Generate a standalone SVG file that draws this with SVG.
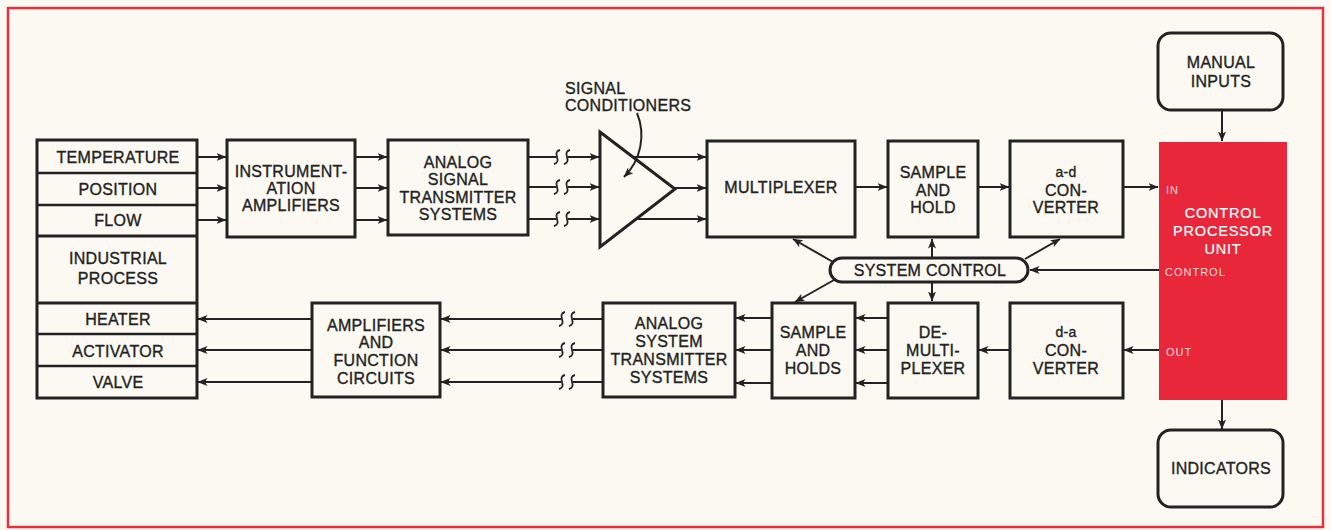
<svg xmlns="http://www.w3.org/2000/svg" width="1331" height="530" viewBox="0 0 1331 530">
<style>
.bx{fill:none;stroke:#222;stroke-width:3}
.dv{stroke:#222;stroke-width:2.5}
.t{font-family:"Liberation Sans",Arial,sans-serif;font-size:16px;fill:#222;stroke:#222;stroke-width:0.35;text-anchor:middle;letter-spacing:0.3px}
.ts{font-size:14px}
.w{font-family:"Liberation Sans",Arial,sans-serif;font-size:14.5px;fill:#fff;stroke:#fff;stroke-width:0.2;text-anchor:middle;letter-spacing:0.8px}
.wl{font-family:"Liberation Sans",Arial,sans-serif;font-size:11px;fill:#ffd8dc;letter-spacing:1px}
.c{fill:none;stroke:#222;stroke-width:2}
.a{marker-end:url(#ah)}
.sq{fill:none;stroke:#222;stroke-width:1.8}
</style>
<defs>
<marker id="ah" viewBox="0 0 10 8" refX="9.5" refY="4" markerWidth="10" markerHeight="8" orient="auto" markerUnits="userSpaceOnUse">
<path d="M0,0 L10,4 L0,8 L2.5,4 z" fill="#222"/>
</marker>
</defs>
<rect width="1331" height="530" fill="#fbf9f2"/>
<rect x="8" y="8" width="1315" height="519" fill="none" stroke="#e8303c" stroke-width="2.5"/>

<g id="process">
<rect class="bx" x="37" y="140" width="160" height="258"/>
<line class="dv" x1="37" y1="173" x2="197" y2="173"/>
<line class="dv" x1="37" y1="205" x2="197" y2="205"/>
<line class="bx" x1="37" y1="236" x2="197" y2="236"/>
<line class="bx" x1="37" y1="303" x2="197" y2="303"/>
<line class="dv" x1="37" y1="334" x2="197" y2="334"/>
<line class="dv" x1="37" y1="366" x2="197" y2="366"/>
<text class="t" x="118" y="163">TEMPERATURE</text>
<text class="t" x="118" y="195">POSITION</text>
<text class="t" x="118" y="226">FLOW</text>
<text class="t" x="118" y="264">INDUSTRIAL</text>
<text class="t" x="118" y="284">PROCESS</text>
<text class="t" x="118" y="325">HEATER</text>
<text class="t" x="118" y="357">ACTIVATOR</text>
<text class="t" x="118" y="388">VALVE</text>
</g>

<g id="instr-amp">
<rect class="bx" x="227" y="140" width="128" height="97"/>
<text class="t" x="291" y="177">INSTRUMENT-</text>
<text class="t" x="291" y="194">ATION</text>
<text class="t" x="291" y="211">AMPLIFIERS</text>
</g>

<g id="analog-signal">
<rect class="bx" x="388" y="140" width="140" height="95"/>
<text class="t" x="458" y="168">ANALOG</text>
<text class="t" x="458" y="185">SIGNAL</text>
<text class="t" x="458" y="203">TRANSMITTER</text>
<text class="t" x="458" y="220">SYSTEMS</text>
</g>

<g id="signal-conditioners">
<polygon points="600,132 675,189 600,247" fill="none" stroke="#222" stroke-width="3" stroke-linejoin="miter"/>
<text class="t" x="565" y="94" style="text-anchor:start">SIGNAL</text>
<text class="t" x="565" y="111" style="text-anchor:start">CONDITIONERS</text>
</g>

<g id="multiplexer">
<rect class="bx" x="707" y="141" width="148" height="96"/>
<text class="t" x="781" y="193">MULTIPLEXER</text>
</g>

<g id="sample-hold">
<rect class="bx" x="888" y="141" width="90" height="96"/>
<text class="t" x="933" y="178">SAMPLE</text>
<text class="t" x="933" y="196">AND</text>
<text class="t" x="933" y="213">HOLD</text>
</g>

<g id="ad-converter">
<rect class="bx" x="1010" y="141" width="113" height="96"/>
<text class="t ts" x="1066" y="177">a-d</text>
<text class="t" x="1066" y="196">CON-</text>
<text class="t" x="1066" y="213">VERTER</text>
</g>

<g id="cpu">
<rect x="1159" y="142" width="128" height="258" fill="#e8283a"/>
<text class="wl" x="1166" y="194">IN</text>
<text class="w" x="1223" y="218">CONTROL</text>
<text class="w" x="1223" y="236">PROCESSOR</text>
<text class="w" x="1223" y="254">UNIT</text>
<text class="wl" x="1165" y="276">CONTROL</text>
<text class="wl" x="1166" y="356">OUT</text>
</g>

<g id="manual-inputs">
<rect class="bx" x="1158" y="33" width="125" height="77" rx="13"/>
<text class="t" x="1221" y="68">MANUAL</text>
<text class="t" x="1221" y="87">INPUTS</text>
</g>

<g id="indicators">
<rect class="bx" x="1158" y="430" width="125" height="77" rx="13"/>
<text class="t" x="1221" y="474">INDICATORS</text>
</g>

<g id="system-control">
<rect class="bx" x="830" y="258" width="198" height="24" rx="12"/>
<text class="t" x="930" y="276">SYSTEM CONTROL</text>
</g>

<g id="da-converter">
<rect class="bx" x="1010" y="303" width="113" height="95"/>
<text class="t ts" x="1066" y="337">d-a</text>
<text class="t" x="1066" y="356">CON-</text>
<text class="t" x="1066" y="374">VERTER</text>
</g>

<g id="demultiplexer">
<rect class="bx" x="888" y="303" width="90" height="95"/>
<text class="t" x="933" y="338">DE-</text>
<text class="t" x="933" y="356">MULTI-</text>
<text class="t" x="933" y="374">PLEXER</text>
</g>

<g id="sample-holds">
<rect class="bx" x="772" y="303" width="83" height="95"/>
<text class="t" x="813" y="338">SAMPLE</text>
<text class="t" x="813" y="356">AND</text>
<text class="t" x="813" y="374">HOLDS</text>
</g>

<g id="analog-system">
<rect class="bx" x="603" y="303" width="132" height="94"/>
<text class="t" x="669" y="329">ANALOG</text>
<text class="t" x="669" y="347">SYSTEM</text>
<text class="t" x="669" y="365">TRANSMITTER</text>
<text class="t" x="669" y="383">SYSTEMS</text>
</g>

<g id="amplifiers">
<rect class="bx" x="312" y="303" width="128" height="94"/>
<text class="t" x="376" y="331">AMPLIFIERS</text>
<text class="t" x="376" y="348">AND</text>
<text class="t" x="376" y="366">FUNCTION</text>
<text class="t" x="376" y="384">CIRCUITS</text>
</g>

<g id="connectors">
<path class="c a" d="M197,157 H226"/><path class="c a" d="M197,188 H226"/><path class="c a" d="M197,220 H226"/>
<path class="c a" d="M355,157 H387"/><path class="c a" d="M355,188 H387"/><path class="c a" d="M355,220 H387"/>
<path class="c" d="M528,157 H556"/><path class="c a" d="M568,157 H599"/>
<path class="c" d="M528,187 H556"/><path class="c a" d="M568,187 H599"/>
<path class="c" d="M528,219 H556"/><path class="c a" d="M568,219 H599"/>
<path class="sq" d="M560,150 Q555,151 557,157 Q559,163 554,164 M570,150 Q565,151 567,157 Q569,163 564,164"/>
<path class="sq" d="M560,180 Q555,181 557,187 Q559,193 554,194 M570,180 Q565,181 567,187 Q569,193 564,194"/>
<path class="sq" d="M560,212 Q555,213 557,219 Q559,225 554,226 M570,212 Q565,213 567,219 Q569,225 564,226"/>
<path class="c a" d="M633,157 H706"/><path class="c a" d="M675,188 H706"/><path class="c a" d="M636,219 H706"/>
<path class="c a" d="M637,113 C646,135 641,160 624,177"/>
<path class="c a" d="M855,187 H887"/>
<path class="c a" d="M978,187 H1009"/>
<path class="c a" d="M1123,187 H1158"/>
<path class="c a" d="M1222,110 V141"/>
<path class="c a" d="M1222,400 V429"/>
<path class="c a" d="M1159,270 H1030"/>
<path class="c a" d="M833,262 L793,239"/>
<path class="c a" d="M932,258 V239"/>
<path class="c a" d="M1025,259 L1060,239"/>
<path class="c a" d="M834,280 L795,302"/>
<path class="c a" d="M932,282 V301"/>
<path class="c a" d="M1159,350 H1124"/>
<path class="c a" d="M1010,350 H979"/>
<path class="c a" d="M888,318 H856"/><path class="c a" d="M888,350 H856"/><path class="c a" d="M888,383 H856"/>
<path class="c a" d="M772,318 H736"/><path class="c a" d="M772,350 H736"/><path class="c a" d="M772,383 H736"/>
<path class="c" d="M603,319 H573"/><path class="c a" d="M561,319 H441"/>
<path class="c" d="M603,350 H573"/><path class="c a" d="M561,350 H441"/>
<path class="c" d="M603,382 H573"/><path class="c a" d="M561,382 H441"/>
<path class="sq" d="M565,312 Q560,313 562,319 Q564,325 559,326 M575,312 Q570,313 572,319 Q574,325 569,326"/>
<path class="sq" d="M565,343 Q560,344 562,350 Q564,356 559,357 M575,343 Q570,344 572,350 Q574,356 569,357"/>
<path class="sq" d="M565,375 Q560,376 562,382 Q564,388 559,389 M575,375 Q570,376 572,382 Q574,388 569,389"/>
<path class="c a" d="M312,319 H198"/><path class="c a" d="M312,350 H198"/><path class="c a" d="M312,382 H198"/>
</g>
</svg>
